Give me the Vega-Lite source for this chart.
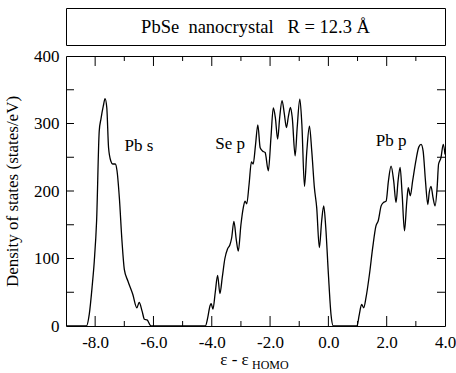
{
  "$schema": "https://vega.github.io/schema/vega-lite/v6.json",
  "padding": {"left": 3, "top": 7, "right": 1, "bottom": 2},
  "config": {
    "font": "Liberation Serif",
    "view": {"stroke": "black", "strokeWidth": 1},
    "axis": {"grid": false, "domain": false, "ticks": false, "labelColor": "black", "titleColor": "black", "titleFontWeight": "normal", "labelFontSize": 17, "titleFontSize": 17, "labelFont": "Liberation Serif", "titleFont": "Liberation Serif", "labelFlush": false, "labelOverlap": false}
  },
  "bounds": "flush",
  "spacing": 11,
  "vconcat": [
    {
      "width": 379,
      "height": 37,
      "view": {"stroke": "black", "strokeWidth": 1},
      "data": {"values": [{}]},
      "mark": {"type": "text", "text": "PbSe\u00a0 nanocrystal\u00a0\u00a0 R = 12.3 Å", "font": "Liberation Serif", "fontSize": 18.5, "color": "black", "baseline": "middle", "align": "center"},
      "encoding": {}
    },
    {
      "width": 379,
      "height": 270,
      "view": {"stroke": "black", "strokeWidth": 1},
      "resolve": {"axis": {"x": "independent", "y": "independent"}},
      "layer": [
        {
          "data": {"values": [
            {"e": -9.0, "dos": 0}, {"e": -8.3, "dos": 0}, {"e": -8.2, "dos": 18}, {"e": -8.1, "dos": 60}, {"e": -8.03, "dos": 96},
            {"e": -7.95, "dos": 156}, {"e": -7.86, "dos": 289}, {"e": -7.8, "dos": 307}, {"e": -7.72, "dos": 326}, {"e": -7.66, "dos": 337},
            {"e": -7.6, "dos": 323}, {"e": -7.54, "dos": 264}, {"e": -7.46, "dos": 244}, {"e": -7.4, "dos": 240}, {"e": -7.31, "dos": 240},
            {"e": -7.25, "dos": 230}, {"e": -7.17, "dos": 190}, {"e": -7.08, "dos": 126}, {"e": -7.0, "dos": 84}, {"e": -6.88, "dos": 67},
            {"e": -6.71, "dos": 47}, {"e": -6.57, "dos": 27}, {"e": -6.49, "dos": 35}, {"e": -6.39, "dos": 22}, {"e": -6.31, "dos": 10},
            {"e": -6.22, "dos": 9}, {"e": -6.08, "dos": 0}, {"e": -5.0, "dos": 0}, {"e": -4.22, "dos": 0}, {"e": -4.14, "dos": 12},
            {"e": -4.06, "dos": 30}, {"e": -4.02, "dos": 33}, {"e": -3.96, "dos": 25}, {"e": -3.88, "dos": 50}, {"e": -3.8, "dos": 75},
            {"e": -3.72, "dos": 48}, {"e": -3.64, "dos": 72}, {"e": -3.55, "dos": 100}, {"e": -3.46, "dos": 114}, {"e": -3.38, "dos": 120},
            {"e": -3.32, "dos": 130}, {"e": -3.24, "dos": 155}, {"e": -3.16, "dos": 128}, {"e": -3.09, "dos": 111}, {"e": -3.0, "dos": 150},
            {"e": -2.92, "dos": 175}, {"e": -2.86, "dos": 185}, {"e": -2.8, "dos": 181}, {"e": -2.72, "dos": 210}, {"e": -2.64, "dos": 243},
            {"e": -2.58, "dos": 240}, {"e": -2.5, "dos": 268}, {"e": -2.42, "dos": 298}, {"e": -2.34, "dos": 264}, {"e": -2.25, "dos": 259},
            {"e": -2.17, "dos": 257}, {"e": -2.06, "dos": 230}, {"e": -1.97, "dos": 279}, {"e": -1.89, "dos": 323}, {"e": -1.82, "dos": 309},
            {"e": -1.74, "dos": 277}, {"e": -1.67, "dos": 309}, {"e": -1.59, "dos": 334}, {"e": -1.51, "dos": 314}, {"e": -1.44, "dos": 294},
            {"e": -1.37, "dos": 311}, {"e": -1.3, "dos": 324}, {"e": -1.24, "dos": 309}, {"e": -1.14, "dos": 252}, {"e": -1.07, "dos": 294},
            {"e": -0.98, "dos": 336}, {"e": -0.91, "dos": 299}, {"e": -0.82, "dos": 207}, {"e": -0.74, "dos": 259}, {"e": -0.65, "dos": 296},
            {"e": -0.57, "dos": 259}, {"e": -0.48, "dos": 205}, {"e": -0.4, "dos": 175}, {"e": -0.31, "dos": 116}, {"e": -0.23, "dos": 156},
            {"e": -0.16, "dos": 178}, {"e": -0.09, "dos": 146}, {"e": 0.0, "dos": 77}, {"e": 0.09, "dos": 17}, {"e": 0.17, "dos": 0},
            {"e": 0.98, "dos": 0}, {"e": 1.06, "dos": 17}, {"e": 1.14, "dos": 32}, {"e": 1.21, "dos": 27}, {"e": 1.29, "dos": 42},
            {"e": 1.41, "dos": 77}, {"e": 1.52, "dos": 116}, {"e": 1.63, "dos": 148}, {"e": 1.71, "dos": 156}, {"e": 1.81, "dos": 178},
            {"e": 1.89, "dos": 183}, {"e": 1.98, "dos": 185}, {"e": 2.06, "dos": 215}, {"e": 2.15, "dos": 237}, {"e": 2.24, "dos": 215},
            {"e": 2.32, "dos": 183}, {"e": 2.39, "dos": 215}, {"e": 2.46, "dos": 235}, {"e": 2.53, "dos": 195}, {"e": 2.61, "dos": 141},
            {"e": 2.69, "dos": 185}, {"e": 2.74, "dos": 205}, {"e": 2.81, "dos": 193}, {"e": 2.89, "dos": 215}, {"e": 3.01, "dos": 247},
            {"e": 3.1, "dos": 265}, {"e": 3.18, "dos": 269}, {"e": 3.25, "dos": 259}, {"e": 3.33, "dos": 215}, {"e": 3.41, "dos": 180},
            {"e": 3.46, "dos": 198}, {"e": 3.52, "dos": 207}, {"e": 3.59, "dos": 190}, {"e": 3.66, "dos": 178}, {"e": 3.73, "dos": 205},
            {"e": 3.78, "dos": 240}, {"e": 3.86, "dos": 249}, {"e": 3.94, "dos": 269}, {"e": 4.0, "dos": 254}
          ]},
          "mark": {"type": "line", "color": "black", "strokeWidth": 1.3, "interpolate": "monotone", "clip": true},
          "encoding": {
            "x": {"field": "e", "type": "quantitative", "scale": {"domain": [-9, 4], "nice": false, "zero": false},
              "axis": {"orient": "bottom", "values": [-8, -6, -4, -2, 0, 2, 4],
                "labelExpr": "(datum.value < 0 ? '-' : '') + format(abs(datum.value), '.1f')",
                "labelPadding": 8, "title": "ε - ε", "titleX": 168, "titleY": 38, "titleBaseline": "alphabetic", "titleAlign": "center"}},
            "y": {"field": "dos", "type": "quantitative", "scale": {"domain": [0, 400], "nice": false},
              "axis": {"orient": "left", "values": [0, 100, 200, 300, 400],
                "labelPadding": 7, "title": "Density of states (states/eV)", "titlePadding": 12}}
          }
        },
        {
          "data": {"values": [
            {"id": "b-8", "tx": -8, "ty": 0}, {"id": "b-8", "tx": -8, "ty": 14.8},
            {"id": "b-6", "tx": -6, "ty": 0}, {"id": "b-6", "tx": -6, "ty": 14.8},
            {"id": "b-4", "tx": -4, "ty": 0}, {"id": "b-4", "tx": -4, "ty": 14.8},
            {"id": "b-2", "tx": -2, "ty": 0}, {"id": "b-2", "tx": -2, "ty": 14.8},
            {"id": "b0", "tx": 0, "ty": 0}, {"id": "b0", "tx": 0, "ty": 14.8},
            {"id": "b2", "tx": 2, "ty": 0}, {"id": "b2", "tx": 2, "ty": 14.8},
            {"id": "b-7", "tx": -7, "ty": 0}, {"id": "b-7", "tx": -7, "ty": 7.4},
            {"id": "b-5", "tx": -5, "ty": 0}, {"id": "b-5", "tx": -5, "ty": 7.4},
            {"id": "b-3", "tx": -3, "ty": 0}, {"id": "b-3", "tx": -3, "ty": 7.4},
            {"id": "b-1", "tx": -1, "ty": 0}, {"id": "b-1", "tx": -1, "ty": 7.4},
            {"id": "b1", "tx": 1, "ty": 0}, {"id": "b1", "tx": 1, "ty": 7.4},
            {"id": "b3", "tx": 3, "ty": 0}, {"id": "b3", "tx": 3, "ty": 7.4},
            {"id": "t-8", "tx": -8, "ty": 400}, {"id": "t-8", "tx": -8, "ty": 385.2},
            {"id": "t-6", "tx": -6, "ty": 400}, {"id": "t-6", "tx": -6, "ty": 385.2},
            {"id": "t-4", "tx": -4, "ty": 400}, {"id": "t-4", "tx": -4, "ty": 385.2},
            {"id": "t-2", "tx": -2, "ty": 400}, {"id": "t-2", "tx": -2, "ty": 385.2},
            {"id": "t0", "tx": 0, "ty": 400}, {"id": "t0", "tx": 0, "ty": 385.2},
            {"id": "t2", "tx": 2, "ty": 400}, {"id": "t2", "tx": 2, "ty": 385.2},
            {"id": "t-7", "tx": -7, "ty": 400}, {"id": "t-7", "tx": -7, "ty": 392.6},
            {"id": "t-5", "tx": -5, "ty": 400}, {"id": "t-5", "tx": -5, "ty": 392.6},
            {"id": "t-3", "tx": -3, "ty": 400}, {"id": "t-3", "tx": -3, "ty": 392.6},
            {"id": "t-1", "tx": -1, "ty": 400}, {"id": "t-1", "tx": -1, "ty": 392.6},
            {"id": "t1", "tx": 1, "ty": 400}, {"id": "t1", "tx": 1, "ty": 392.6},
            {"id": "t3", "tx": 3, "ty": 400}, {"id": "t3", "tx": 3, "ty": 392.6},
            {"id": "l50", "tx": -9, "ty": 50}, {"id": "l50", "tx": -8.726, "ty": 50},
            {"id": "l100", "tx": -9, "ty": 100}, {"id": "l100", "tx": -8.726, "ty": 100},
            {"id": "l150", "tx": -9, "ty": 150}, {"id": "l150", "tx": -8.726, "ty": 150},
            {"id": "l200", "tx": -9, "ty": 200}, {"id": "l200", "tx": -8.726, "ty": 200},
            {"id": "l250", "tx": -9, "ty": 250}, {"id": "l250", "tx": -8.726, "ty": 250},
            {"id": "l300", "tx": -9, "ty": 300}, {"id": "l300", "tx": -8.726, "ty": 300},
            {"id": "l350", "tx": -9, "ty": 350}, {"id": "l350", "tx": -8.726, "ty": 350},
            {"id": "r50", "tx": 3.726, "ty": 50}, {"id": "r50", "tx": 4, "ty": 50},
            {"id": "r100", "tx": 3.726, "ty": 100}, {"id": "r100", "tx": 4, "ty": 100},
            {"id": "r150", "tx": 3.726, "ty": 150}, {"id": "r150", "tx": 4, "ty": 150},
            {"id": "r200", "tx": 3.726, "ty": 200}, {"id": "r200", "tx": 4, "ty": 200},
            {"id": "r250", "tx": 3.726, "ty": 250}, {"id": "r250", "tx": 4, "ty": 250},
            {"id": "r300", "tx": 3.726, "ty": 300}, {"id": "r300", "tx": 4, "ty": 300},
            {"id": "r350", "tx": 3.726, "ty": 350}, {"id": "r350", "tx": 4, "ty": 350}
          ]},
          "mark": {"type": "line", "color": "black", "strokeWidth": 1, "interpolate": "linear"},
          "encoding": {
            "x": {"field": "tx", "type": "quantitative", "axis": null},
            "y": {"field": "ty", "type": "quantitative", "axis": null},
            "detail": {"field": "id", "type": "nominal"}
          }
        },
        {
          "data": {"values": [{}]},
          "mark": {"type": "text", "text": "Pb s", "fontSize": 17, "color": "black", "align": "center", "baseline": "middle"},
          "encoding": {"x": {"datum": -6.5, "type": "quantitative", "axis": null}, "y": {"datum": 267, "type": "quantitative", "axis": null}}
        },
        {
          "data": {"values": [{}]},
          "mark": {"type": "text", "text": "Se p", "fontSize": 17, "color": "black", "align": "center", "baseline": "middle"},
          "encoding": {"x": {"datum": -3.37, "type": "quantitative", "axis": null}, "y": {"datum": 270, "type": "quantitative", "axis": null}}
        },
        {
          "data": {"values": [{}]},
          "mark": {"type": "text", "text": "Pb p", "fontSize": 17, "color": "black", "align": "center", "baseline": "middle"},
          "encoding": {"x": {"datum": 2.15, "type": "quantitative", "axis": null}, "y": {"datum": 274, "type": "quantitative", "axis": null}}
        },
        {
          "data": {"values": [{}]},
          "mark": {"type": "text", "text": "HOMO", "fontSize": 12, "color": "black", "align": "left", "baseline": "alphabetic"},
          "encoding": {"x": {"datum": -2.62, "type": "quantitative", "axis": null}, "y": {"datum": -63.7, "type": "quantitative", "axis": null}}
        }
      ]
    }
  ]
}
